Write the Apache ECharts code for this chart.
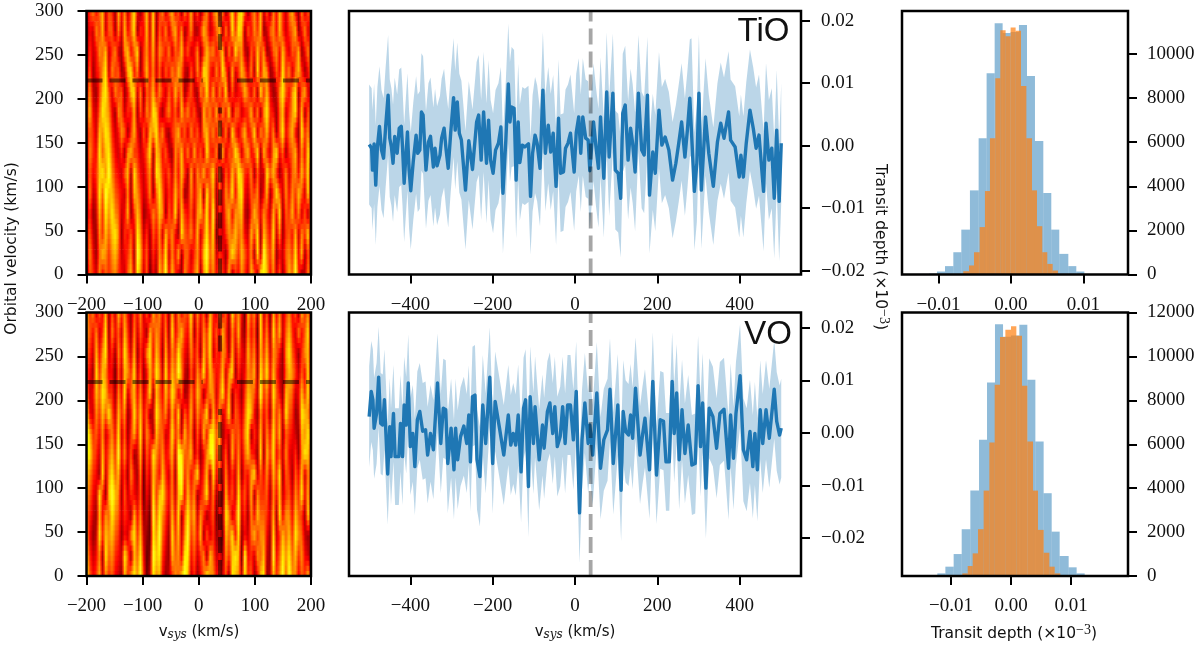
<!DOCTYPE html>
<html><head><meta charset="utf-8">
<style>html,body{margin:0;padding:0;background:#fff}#c{width:1200px;height:649px}</style>
<script src="https://cdn.jsdelivr.net/npm/echarts@6/dist/echarts.min.js"></script>
</head><body><div id="c"></div>
<script>
// velocity (km/s) and transit depth (stored in units of 1e-4)
const tioLine=[[-500,2],[-494,-4],[-492,-39],[-488,3],[-484,-63],[-480,-2],[-475,31],[-470,-7],[-465,-20],[-460,30],[-454,81],[-450,12],[-446,-2],[-442,-28],[-438,15],[-432,-12],[-427,28],[-422,31],[-419,-2],[-415,-60],[-407,22],[-403,-39],[-399,-72],[-393,-26],[-386,17],[-382,-12],[-377,-7],[-373,54],[-369,49],[-362,-39],[-356,6],[-351,15],[-344,-34],[-340,-4],[-335,-32],[-328,-15],[-324,12],[-318,28],[-313,-7],[-308,-36],[-302,20],[-295,77],[-291,25],[-286,70],[-281,20],[-276,9],[-266,-71],[-258,8],[-249,-38],[-239,38],[-234,49],[-228,-23],[-222,54],[-215,-28],[-210,41],[-205,-23],[-199,-44],[-193,-7],[-186,4],[-180,30],[-175,-76],[-168,9],[-162,99],[-158,38],[-154,62],[-148,60],[-143,-55],[-138,38],[-134,-27],[-128,1],[-122,-2],[-113,3],[-108,-81],[-103,-12],[-97,17],[-92,4],[-85,-36],[-78,89],[-72,-12],[-65,33],[-59,-10],[-53,20],[-46,-65],[-40,44],[-35,-44],[-28,-42],[-23,-4],[-17,4],[-11,20],[-2,-42],[3,21],[9,46],[14,-12],[19,46],[26,12],[32,9],[36,-40],[45,38],[51,-2],[57,-36],[62,46],[70,-52],[77,86],[83,-18],[92,84],[98,-39],[105,-44],[111,-84],[116,52],[122,65],[129,-23],[135,28],[140,4],[146,-42],[154,84],[162,-7],[168,-15],[176,81],[181,-79],[189,-10],[195,-44],[204,57],[211,1],[219,14],[228,-7],[237,-55],[245,-28],[252,4],[259,38],[267,-18],[273,25],[279,76],[283,78],[290,-73],[296,-28],[301,84],[307,-71],[317,46],[325,-12],[336,-65],[346,6],[354,36],[362,12],[373,54],[378,9],[389,-2],[399,-50],[403,-15],[409,-50],[416,4],[425,57],[433,28],[440,-4],[447,17],[458,-73],[464,36],[471,-23],[478,-4],[484,-84],[490,25],[496,-89],[501,4]];
const voLine=[[-500,31],[-495,79],[-491,63],[-488,9],[-482,37],[-477,106],[-472,18],[-467,15],[-463,63],[-459,-7],[-455,-78],[-450,12],[-447,-45],[-441,37],[-437,-45],[-428,-45],[-424,18],[-419,-45],[-415,53],[-410,15],[-405,95],[-400,-26],[-394,-1],[-389,-64],[-383,25],[-377,41],[-370,3],[-363,6],[-358,-42],[-351,-1],[-344,-32],[-334,95],[-326,-20],[-320,47],[-314,44],[-309,-58],[-301,9],[-294,-70],[-290,9],[-285,-51],[-278,-7],[-270,13],[-263,-20],[-258,34],[-254,-55],[-249,69],[-243,72],[-238,-51],[-231,-83],[-224,53],[-217,-20],[-207,106],[-200,-58],[-194,60],[-184,12],[-173,-42],[-162,34],[-156,-23],[-150,-1],[-144,-23],[-138,34],[-131,-74],[-125,47],[-120,63],[-113,-102],[-109,69],[-101,-20],[-97,50],[-87,-51],[-79,15],[-75,-29],[-67,41],[-61,57],[-54,-1],[-49,50],[-43,-26],[-36,-7],[-30,50],[-24,-20],[-18,53],[-11,53],[-4,-13],[3,79],[11,-152],[17,-13],[24,57],[32,-20],[36,15],[43,-42],[53,76],[62,-67],[70,-13],[79,6],[85,83],[93,-58],[104,53],[112,-109],[117,41],[123,3],[130,-4],[135,34],[140,-10],[147,85],[158,-42],[164,-4],[170,28],[181,-70],[189,98],[198,-80],[207,25],[215,22],[221,-55],[229,-55],[236,98],[241,-1],[247,76],[253,-51],[260,44],[267,-39],[275,15],[284,-61],[292,-58],[299,90],[305,-26],[310,57],[318,-105],[326,47],[335,31],[344,-29],[352,37],[362,45],[373,-67],[378,34],[385,-48],[391,37],[401,109],[409,-32],[417,-51],[425,3],[432,-64],[437,-1],[443,-70],[450,44],[456,-20],[464,44],[472,-10],[484,83],[490,22],[497,-4],[501,9]];
// half width of the shaded band, one reading per 100 km/s from -500 to 500 (1e-4)
const tioErr=[96,94,95,96,93,94,95,93,94,97,96];
const voErr=[96,92,94,95,96,95,97,93,95,98,94];
// histogram bin edges and counts
const tioWideEdges=[-0.01131,-0.01021,-0.0091,-0.00795,-0.00685,-0.00566,-0.00446,-0.00336,-0.00225,-0.00115,-0.00005,0.0011,0.00221,0.00331,0.00446,0.00556,0.00666,0.00791,0.00901,0.01012];
const tioWideCounts=[40,135,380,1010,2035,3815,6180,9125,11390,10950,11000,11310,9005,6060,3695,2035,935,380,135];
const tioNarrowEdges=[-0.00658,-0.00579,-0.0051,-0.00432,-0.00359,-0.0029,-0.00216,-0.00147,-0.00074,-0.00005,0.00064,0.00138,0.00212,0.0029,0.00359,0.00432,0.00501,0.00575,0.00648];
const tioNarrowCounts=[150,410,1010,2150,3785,6180,8900,11080,10800,11200,11050,8550,6180,3815,2190,1010,480,180];
const voWideEdges=[-0.01228,-0.01094,-0.00956,-0.00822,-0.00678,-0.00533,-0.004,-0.00267,-0.00133,0,0.00139,0.00272,0.00406,0.00544,0.00678,0.00811,0.00961,0.01094,0.01228];
const voWideCounts=[120,425,1000,2130,3890,6200,8815,11470,10900,10950,11440,8935,6125,3770,2020,910,395,120];
const voNarrowEdges=[-0.00811,-0.00722,-0.00639,-0.0055,-0.00456,-0.00361,-0.00272,-0.00183,-0.00094,0,0.00089,0.00183,0.00272,0.00367,0.0045,0.00544,0.00639,0.00728,0.00822];
const voNarrowCounts=[120,455,1030,2130,3890,6080,8710,10880,11215,11370,10940,8660,6125,3890,2100,1060,425,120];
// correlation maps: rows from 300 km/s (top) to 0, columns -200..200, digit = brightness 0..9
const tioMap=[
"24635725 41736258 31472814 62573516 37251462 57361483 78514637 25163742 57316253",
"13264725 51627358 14372815 36257361 36214752 35716284 87153647 12563742 45713625",
"14236572 46216735 81463726 53625473 52361475 63571628 56215374 61256374 25471362",
"25134682 64512783 61473625 25364752 15263874 26385172 47526183 76125384 62574136",
"36214785 26451378 26154736 42537461 35216483 72638152 34752618 47312685 36815724",
"47325876 31652437 15264873 14635274 63521746 37263815 52347261 68431572 46827153",
"35427687 42365147 31527684 62145735 26352674 63726184 25734826 47361583 57318462",
"26438578 53241674 42358176 35216473 62735284 36172548 62573481 74268351 45726384",
"25347869 64325718 53246187 43526374 17264735 82615374 87436152 28574136 25637481",
"16238597 75432617 64236158 52437461 26357184 71526483 78325461 37148526 36475281",
"24127486 86523714 75123647 61538274 35267483 91425736 67214753 64273815 47362517",
"35216475 78614352 86241536 27463185 46372584 80324657 56327481 75382614 53726481",
"26315764 67523461 97351426 48263715 52463795 72431586 47536182 96471325 64837152",
"15426354 56432572 86250317 59374216 43571684 63542714 36427518 87362514 75941263"];
const voMap=[
"74625371 52746315 36251746 35172635 48263517 42635184 63074618 25073624 63517462",
"65362481 63527416 25317465 26183574 37152648 35274163 72163508 36184725 74263581",
"54273682 41638527 14268375 17264853 26351748 24365172 53274617 47265316 85314672",
"43184763 30527648 25137486 28375962 15264837 53472681 42365718 58374215 76425381",
"62375874 41638257 36248175 37486251 26375146 62583714 31476529 46285317 65237482",
"83264758 52746138 47351286 46273815 37264581 73624815 42587316 35174628 54128763",
"97453624 63825147 38264175 52384627 46152738 85713264 53681427 26384715 43217685",
"88542735 74936251 27153864 63472985 57241368 94625173 62574318 17483526 32416874",
"76431826 85724163 16042753 74261894 63582471 83516242 71436825 36274815 41537263",
"65328417 97615243 25031847 85362783 74613582 61407352 83527164 45163724 52648371",
"54217365 86524317 36120958 64273815 85726413 50318624 92416375 54271836 63754182",
"63128476 75413268 47210869 53184726 94637152 41207583 81325746 63182475 74865213",
"74236185 64328517 58301978 42175638 83524617 52316478 70934265 72193586 85746321",
"85347264 53217468 69402867 31246579 72413586 63425187 62845137 81274695 96635472"];
// axis tick labels
const heatXTicks=[-200,-100,0,100,200];
const heatYTicks=[0,50,100,150,200,250,300];
const velTicks=[-400,-200,0,200,400];
const tioDepthTicks=[-0.02,-0.01,0,0.01,0.02];
const voDepthTicks=[-0.02,-0.01,0,0.01,0.02];
const histXTicks=[-0.01,0,0.01];
const tioCountTicks=[0,2000,4000,6000,8000,10000];
const voCountTicks=[0,2000,4000,6000,8000,10000,12000];
const vsysMark=[38];
const kpMark=[221];

const SERIF='"Liberation Serif","DejaVu Serif",serif', SANS='"DejaVu Sans",sans-serif';
const BLUE='#1f77b4';
const num=(d)=>v=>(v<0?'\u2212':'')+Math.abs(v).toFixed(d);
function hot(d){ // digit brightness through the "hot" colour map
  const t=0.14+d/9*0.66; const n=1/0.365;
  const r=Math.min(1,t*n), g=Math.max(0,Math.min(1,(t-0.365)/0.381)), b=Math.max(0,(t-0.746)/0.254);
  return 'rgb('+[r,g,b].map(x=>Math.round(x*255)).join(',')+')';
}
function axis(o){
  return {type:'value',scale:false,splitLine:{show:false},
    axisLine:{show:false,onZero:false},
    axisTick:{show:true,length:9,lineStyle:{color:'#000',width:2},customValues:o.ticks},
    axisLabel:{show:true,customValues:o.ticks,formatter:o.fmt,color:'#111',fontFamily:SERIF,fontSize:19,margin:o.margin,hideOverlap:false,
      showMinLabel:true,showMaxLabel:true},
    min:o.min,max:o.max,position:o.position,gridIndex:o.g};
}
const grids=[],xAxes=[],yAxes=[],series=[];
function addGrid(l,t,r,b){grids.push({left:l,top:t,width:r-l,height:b-t,show:true,borderColor:'#000',borderWidth:2.5,backgroundColor:'transparent',z:6});return grids.length-1;}
const fmtI=num(0),fmt2=num(2);

function heatPanel(top,bottom,rows){
  const g=addGrid(86.5,top,311,bottom);
  xAxes.push(axis({g,min:-200,max:200,position:'bottom',ticks:heatXTicks,fmt:fmtI,margin:21}));
  yAxes.push(axis({g,min:0,max:300,position:'left',ticks:heatYTicks,fmt:fmtI,margin:23}));
  const M=rows.map(s=>s.replace(/ /g,'').split('').map(Number));
  const R=M.length,C=Math.min(...M.map(r=>r.length)),dx=400/(C-1),dy=300/(R-1),data=[];
  for(let r=0;r<R;r++)for(let c=0;c<C;c++)data.push([-200+c*dx,300-r*dy,M[r][c],r,c]);
  const SUB=4;
  series.push({type:'custom',xAxisIndex:g,yAxisIndex:g,z:2,silent:true,clip:true,animation:false,progressive:0,
    encode:{x:0,y:1},data,
    renderItem(p,api){
      const r=api.value(3),c=api.value(4);
      if(r>=R-1||c>=C-1)return null;
      const tl=api.coord([api.value(0),api.value(1)]),br=api.coord([api.value(0)+dx,api.value(1)-dy]);
      const w=br[0]-tl[0],h=(br[1]-tl[1])/SUB,ch=[];
      for(let k=0;k<SUB;k++){
        const f=(k+.5)/SUB;
        const a=M[r][c]*(1-f)+M[r+1][c]*f, b=M[r][c+1]*(1-f)+M[r+1][c+1]*f;
        ch.push({type:'rect',shape:{x:tl[0],y:tl[1]+k*h,width:w+.7,height:h+.7},
          style:{fill:{type:'linear',x:0,y:0,x2:1,y2:0,colorStops:[{offset:0,color:hot(a)},{offset:.5,color:hot((a+b)/2)},{offset:1,color:hot(b)}]}}});
      }
      return {type:'group',children:ch};
    }});
  const dash=(pts)=>series.push({type:'line',xAxisIndex:g,yAxisIndex:g,z:4,silent:true,animation:false,symbol:'none',data:pts,
    lineStyle:{color:'rgba(0,0,0,0.5)',width:4,type:[16,7]}});
  dash([[-200,kpMark[0]],[7,kpMark[0]]]);dash([[68,kpMark[0]],[200,kpMark[0]]]);
  dash([[vsysMark[0],0],[vsysMark[0],190]]);dash([[vsysMark[0],300],[vsysMark[0],255]]);
}
function linePanel(top,bottom,ymin,ymax,line,err,yticks){
  const g=addGrid(349,top,801,bottom);
  xAxes.push(axis({g,min:-549,max:549,position:'bottom',ticks:velTicks,fmt:fmtI,margin:21}));
  yAxes.push(axis({g,min:ymin,max:ymax,position:'right',ticks:yticks,fmt:fmt2,margin:20}));
  const v=line.map(p=>p[1]*1e-4);
  const band=line.map((p,i)=>{const e=err[Math.round((p[0]+500)/100)]*1e-4;return [p[0],v[i]-e,v[i]+e];});
  series.push({type:'custom',xAxisIndex:g,yAxisIndex:g,z:2,silent:true,animation:false,progressive:0,encode:{x:0,y:[1,2]},data:band,
    renderItem(p,api){
      if(p.dataIndex!==0)return null;
      const up=band.map(d=>api.coord([d[0],d[2]])),lo=band.map(d=>api.coord([d[0],d[1]])).reverse();
      return {type:'polygon',shape:{points:up.concat(lo)},style:{fill:'rgba(31,119,180,0.3)'}};
    }});
  series.push({type:'line',xAxisIndex:g,yAxisIndex:g,z:3,silent:true,animation:false,symbol:'none',
    data:line.map((p,i)=>[p[0],v[i]]),lineStyle:{color:BLUE,width:3.4,join:'round'}});
  series.push({type:'line',xAxisIndex:g,yAxisIndex:g,z:4,silent:true,animation:false,symbol:'none',
    data:[[vsysMark[0],ymin],[vsysMark[0],ymax]],lineStyle:{color:'rgba(0,0,0,0.35)',width:3.8,type:[16,7]}});
}
function histPanel(top,bottom,xmin,xmax,ymax,yticks,wE,wC,nE,nC){
  const g=addGrid(902,top,1128,bottom);
  xAxes.push(axis({g,min:xmin,max:xmax,position:'bottom',ticks:histXTicks,fmt:fmt2,margin:21}));
  yAxes.push(axis({g,min:0,max:ymax,position:'right',ticks:yticks,fmt:fmtI,margin:19}));
  const add=(E,Cn,fill,z)=>series.push({type:'custom',xAxisIndex:g,yAxisIndex:g,z,silent:true,animation:false,progressive:0,encode:{x:[0,1],y:2},
    data:Cn.map((c,i)=>[E[i],E[i+1],c]),
    renderItem(p,api){
      const a=api.coord([api.value(0),api.value(2)]),b=api.coord([api.value(1),0]);
      return {type:'rect',shape:{x:a[0],y:a[1],width:b[0]-a[0],height:b[1]-a[1]},style:{fill}};
    }});
  add(wE,wC,'rgba(31,119,180,0.5)',2);
  add(nE,nC,'rgba(255,127,14,0.7)',3);
}
heatPanel(11,274.5,tioMap);
heatPanel(312.5,576,voMap);
linePanel(11,274.5,-0.0206,0.02155,tioLine,tioErr,tioDepthTicks);
linePanel(312.5,576,-0.0272,0.0229,voLine,voErr,voDepthTicks);
histPanel(11,274.5,-0.01503,0.01614,11950,tioCountTicks,tioWideEdges,tioWideCounts,tioNarrowEdges,tioNarrowCounts);
histPanel(312.5,576,-0.01817,0.0195,12000,voCountTicks,voWideEdges,voWideCounts,voNarrowEdges,voNarrowCounts);

const vsysRich={a:{fontFamily:SANS,fontSize:15,color:'#111'},b:{fontFamily:'"DejaVu Serif",serif',fontStyle:'italic',fontSize:12,color:'#111',padding:[6,0,0,0]}};
const depthRich={a:{fontFamily:SANS,fontSize:15.5,color:'#111'},s:{fontFamily:SERIF,fontSize:14,color:'#111',padding:[0,0,8,0]}};
const txt=(x,y,text,rot,extra)=>Object.assign({type:'text',x,y,rotation:rot||0,z:10,silent:true,
  style:Object.assign({text,textAlign:'center',textVerticalAlign:'middle',fill:'#111',font:'15.5px '+SANS},extra||{})});
const graphic=[
  txt(12,248.5,'Orbital velocity (km/s)',Math.PI/2),
  txt(199,632,'{a|v}{b|sys}{a| (km/s)}',0,{rich:vsysRich}),
  txt(575,632,'{a|v}{b|sys}{a| (km/s)}',0,{rich:vsysRich}),
  txt(880,247,'{a|Transit depth (\u00d710}{s|\u22123}{a|)}',-Math.PI/2,{rich:depthRich}),
  txt(1014,634,'{a|Transit depth (\u00d710}{s|\u22123}{a|)}',0,{rich:depthRich}),
  txt(763.5,32,'TiO',0,{font:'33px "Liberation Sans",sans-serif'}),
  txt(768,335,'VO',0,{font:'33px "Liberation Sans",sans-serif'})
];
const chart=echarts.init(document.getElementById('c'),null,{renderer:'canvas',width:1200,height:649});
chart.setOption({animation:false,backgroundColor:'#fff',grid:grids,xAxis:xAxes,yAxis:yAxes,series,graphic});
</script></body></html>
